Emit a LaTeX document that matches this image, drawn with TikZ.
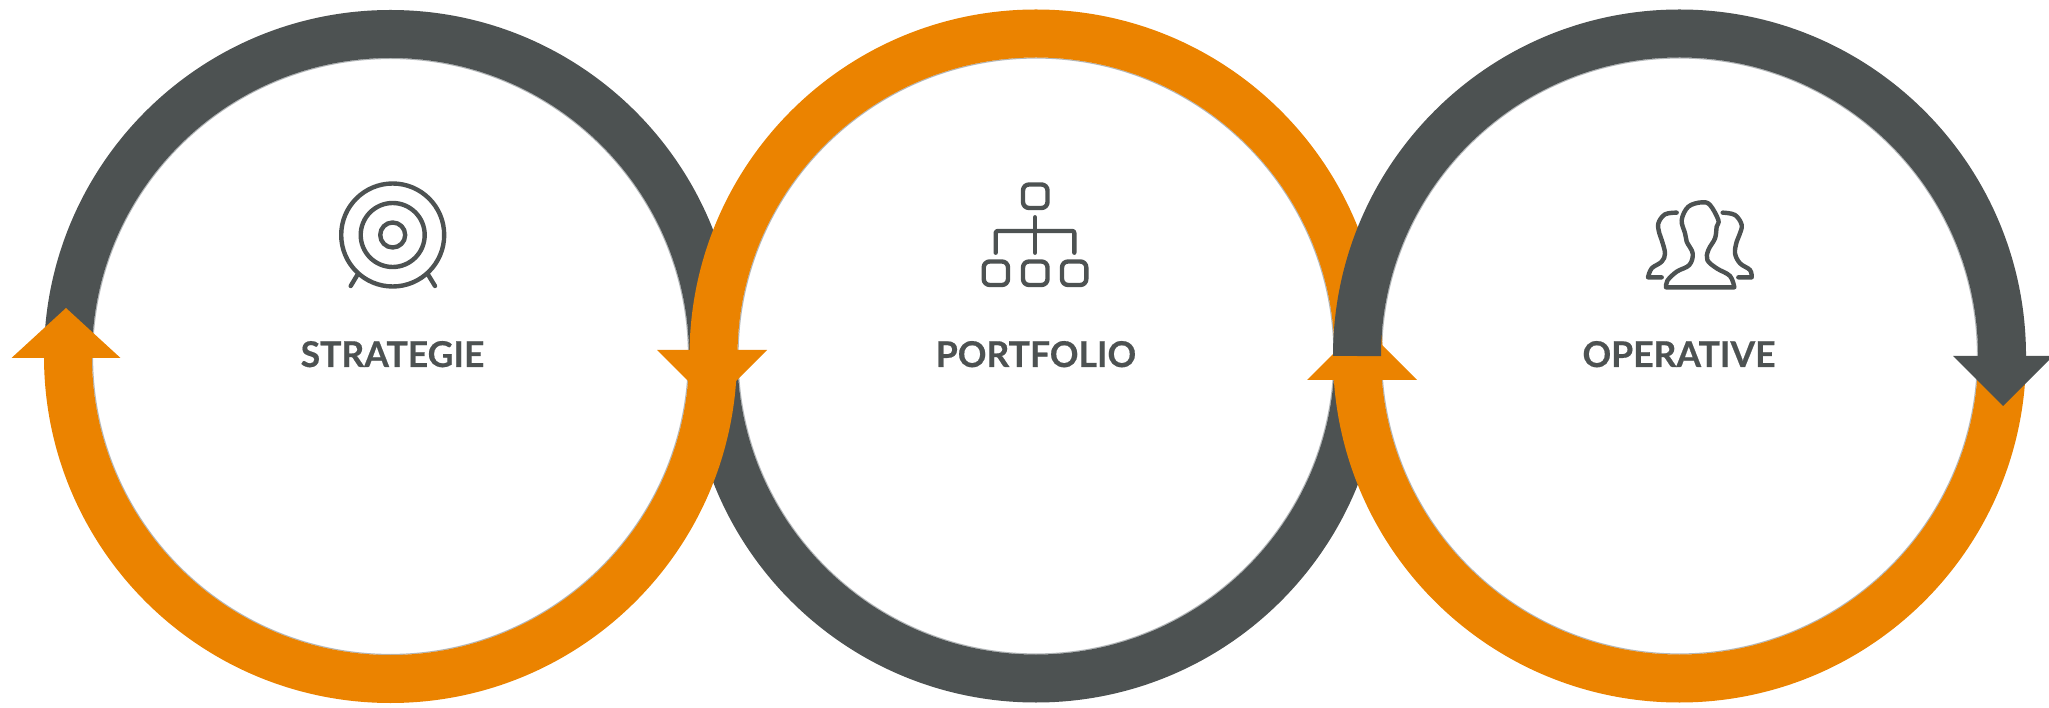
\documentclass[tikz,border=0pt]{standalone}
\usepackage{fontspec}
\setmainfont{Lato}
\newfontfamily\captionfont[FakeBold=0.5]{Lato Bold}
\definecolor{slatec}{HTML}{4D5252}
\definecolor{orangec}{HTML}{EB8300}
\definecolor{edgec}{HTML}{B4B8BA}
\tikzset{
  band/.style={line width=48pt},
  edgeline/.style={draw=edgec,line width=1.2pt},
  head/.style={draw=none},
  iconline/.style={draw=slatec,line width=4.4pt,line cap=round,line join=round},
  caption/.style={text=slatec,font=\captionfont\fontsize{35.5}{36}\selectfont,anchor=base,inner sep=0pt},
}
\begin{document}
\begin{tikzpicture}[x=1pt,y=1pt]
\useasboundingbox (0,0) rectangle (2049,707);
\fill[white] (0,0) rectangle (2049,707);
\coordinate (c1) at (390.5,350.5);
\coordinate (c2) at (1036,351);
\coordinate (c3) at (1679.5,351);
% faint inner edges
\draw[edgeline] (c1) circle[radius=298];
\draw[edgeline] (c2) circle[radius=298];
\draw[edgeline] (c3) circle[radius=298];
% grey arcs below
\draw[band,slatec] ([shift={(0:322.5)}]c1) arc[start angle=0,end angle=180,radius=322.5];
\draw[band,slatec] ([shift={(180:322.5)}]c2) arc[start angle=180,end angle=360,radius=322.5];
% orange 1
\draw[band,orangec] ([shift={(0:322.5)}]c1) arc[start angle=360,end angle=180,radius=322.5];
\fill[orangec,head] (11.5,349) -- (120.5,349) -- (66,399) -- cycle;
% orange 2
\draw[band,orangec] ([shift={(0:322.5)}]c2) arc[start angle=0,end angle=180,radius=322.5];
\fill[orangec,head] (657,357) -- (767,357) -- (712,302) -- cycle;
% orange 3
\draw[band,orangec] ([shift={(0:322.5)}]c3) arc[start angle=360,end angle=183,radius=322.5];
\fill[orangec,head] (1307,327) -- (1417,327) -- (1362,382) -- cycle;
% grey 3
\draw[band,slatec] ([shift={(0:322.5)}]c3) arc[start angle=0,end angle=180,radius=322.5];
\fill[slatec,head] (1953,351) -- (2053,351) -- (2003,301) -- cycle;
% target icon
\draw[iconline] (392.7,472) circle[radius=51.5];
\draw[iconline] (392.7,472) circle[radius=32];
\draw[iconline] (392.7,472) circle[radius=12.5];
\draw[iconline] (357.3,432) -- (350.7,421);
\draw[iconline] (428.3,432) -- (435,421);
% organisation icon
\draw[iconline,rounded corners=6pt] (1023,499) rectangle (1047.5,522.5);
\draw[iconline,rounded corners=6pt] (983.7,422) rectangle (1008,445.5);
\draw[iconline,rounded corners=6pt] (1023,422) rectangle (1047.5,445.5);
\draw[iconline,rounded corners=6pt] (1062,422) rectangle (1086.3,445.5);
\draw[iconline] (1035,489.7) -- (1035,454.3);
\draw[iconline,rounded corners=2pt] (995.7,454.3) -- (995.7,476) -- (1074.3,476) -- (1074.3,454.3);
% people icon
\begin{scope}[shift={(1620,537)},x=0.33333pt,y=-0.33333pt]
\draw[iconline] plot[smooth,tension=0.6] coordinates {(138,352) (142,332) (170,305) (208,285) (218,250) (200,215) (195,190) (185,150) (205,110) (245,97) (270,105) (295,150) (290,170) (285,205) (265,240) (262,270) (290,295) (330,318) (343,352)} -- cycle;
\draw[iconline] plot[smooth,tension=0.6] coordinates {(170,128) (135,133) (115,160) (118,190) (125,210) (135,250) (125,275) (95,295) (84,322)} -- (125,322);
\draw[iconline] plot[smooth,tension=0.6] coordinates {(308,128) (345,135) (365,165) (358,195) (350,215) (345,250) (360,280) (390,300) (395,322)} -- (355,322);
\end{scope}
% captions
\node[caption] (tstrategie) at (392.5,340) {STRATEGIE};
\node[caption] (tportfolio) at (1036,340) {PORTFOLIO};
\node[caption] (toperative) at (1679,340) {OPERATIVE};
\end{tikzpicture}
\end{document}
